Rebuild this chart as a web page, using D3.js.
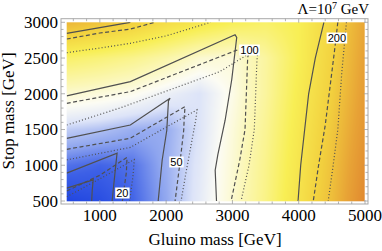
<!DOCTYPE html>
<html>
<head>
<meta charset="utf-8">
<script src="https://cdn.jsdelivr.net/npm/d3@7"></script>
<style>
  body { margin: 0; background: #fff; }
  svg { display: block; }
  .serif { font-family: "Liberation Serif", "Times New Roman", serif; fill: #000; }
  .lbl { font-family: "Liberation Sans", Arial, sans-serif; font-size: 11px; fill: #000; }
</style>
</head>
<body>
<div id="chart"></div>
<script>
// Dimensions du svg
const width = 382,
    height = 251

// Grille de la densité (fine-tuning)
const gluinoGrid = [500, 1000, 1500, 2000, 2500, 3000, 3500, 4000, 4500, 5000]
const stopGrid = [500, 1000, 1500, 2000, 2500, 3000]
const tuningGrid = [
    [10, 13, 21, 36, 60, 90, 125, 170, 220, 290],
    [24, 21, 24, 38, 58, 88, 122, 165, 215, 280],
    [48, 44, 38, 37, 55, 85, 118, 160, 208, 270],
    [90, 85, 78, 65, 55, 80, 113, 155, 200, 262],
    [140, 132, 122, 108, 90, 85, 112, 150, 195, 255],
    [230, 215, 200, 180, 165, 150, 140, 150, 190, 248]
]

// Ticks
const xTicks = [1000, 2000, 3000, 4000, 5000]
const yTicks = [500, 1000, 1500, 2000, 2500, 3000]

// Contours [gluino, stop]
const solid10 = [[[500, 680], [900, 795], [885, 650], [877, 500]]]
const solid20 = [[[500, 890], [1260, 1170], [1240, 1000], [1185, 500]]]
const dashed20 = [[[500, 640], [1000, 860], [1410, 1110], [1400, 900], [1370, 700], [1340, 500]]]
const dotted20 = [[[500, 560], [1000, 810], [1520, 1080], [1500, 850], [1450, 500]]]
const solid50 = [[[500, 1377], [1460, 1563], [2060, 1937], [2035, 1900], [2010, 1490], [1940, 1070], [1880, 500]]]
const dashed50 = [[[500, 1223], [1460, 1377], [2285, 1820], [2275, 1700], [2265, 1490], [2210, 1045], [2135, 500]]]
const dotted50 = [[[500, 1075], [1460, 1250], [2465, 1775], [2450, 1650], [2390, 1350], [2300, 900], [2225, 500]]]
const solid100 = [[[500, 1970], [1460, 2170], [3040, 2825], [3065, 2790], [2990, 2200], [2890, 1630], [2780, 1150], [2740, 930], [2760, 500]]]
const dashed100 = [[[500, 1867], [1460, 2030], [3265, 2682], [3230, 2500], [3190, 1500], [3110, 1070], [2980, 500]]]
const dotted100 = [[[500, 1563], [1300, 1800], [2810, 2310], [3390, 2640], [3370, 2470], [3330, 1500], [3250, 1000], [3130, 500]]]
const solid200 = [
    [[500, 2846], [1000, 2925], [1460, 3000]],
    [[4380, 3000], [4250, 2500], [4150, 2000], [4090, 1500], [4030, 1000], [3990, 500]]
]
const dashed200 = [
    [[500, 2766], [1000, 2850], [1460, 2905], [1830, 3000]],
    [[4590, 3000], [4540, 2600], [4400, 1560], [4300, 1000], [4220, 500]]
]
const dotted200 = [
    [[500, 2575], [1000, 2640], [1460, 2706], [2000, 2810], [2670, 3000]],
    [[4720, 3000], [4650, 2300], [4590, 1500], [4520, 1000], [4445, 500]]
]

// Étiquettes posées sur les contours tiretés
const labelTexts = ['20', '50', '100', '200']
const labelPoints = [[1340, 612], [2156, 1046], [3257, 2612], [4576, 2780]]

const contours = [
    { segs: solid10, dash: null },
    { segs: solid20, dash: null },
    { segs: dashed20, dash: '4,2.5' },
    { segs: dotted20, dash: '1,2.2' },
    { segs: solid50, dash: null },
    { segs: dashed50, dash: '4,2.5' },
    { segs: dotted50, dash: '1,2.2' },
    { segs: solid100, dash: null },
    { segs: dashed100, dash: '4,2.5' },
    { segs: dotted100, dash: '1,2.2' },
    { segs: solid200, dash: null },
    { segs: dashed200, dash: '4,2.5' },
    { segs: dotted200, dash: '1,2.2' }
]

// Échelles
const x = d3.scaleLinear().domain([500, 5000]).range([66.7, 365])
const y = d3.scaleLinear().domain([500, 3000]).range([201, 22.3])

// Couleurs : bleu -> blanc -> jaune -> orange
const color = d3.scaleLinear()
    .domain([10, 20, 35, 55, 75, 100, 150, 200, 250, 300])
    .range(['#2146e0', '#3d60e6', '#8ea5ef', '#dde4f8', '#fcfcf4', '#fbf7b8', '#f8ef55', '#f2d03e', '#e8a436', '#df822e'])
    .clamp(true)

const svg = d3.select('#chart')
    .append('svg')
    .attr('width', width)
    .attr('height', height)

// Image de densité (interpolation bilinéaire de la grille)
const gIdx = d3.scaleLinear().domain(gluinoGrid).range(d3.range(gluinoGrid.length)).clamp(true)
const sIdx = d3.scaleLinear().domain(stopGrid).range(d3.range(stopGrid.length)).clamp(true)
const value = (g, s) => {
    const fi = gIdx(g), fj = sIdx(s)
    const i = Math.min(Math.floor(fi), gluinoGrid.length - 2), j = Math.min(Math.floor(fj), stopGrid.length - 2)
    const u = fi - i, v = fj - j
    const t = tuningGrid
    return (1 - u) * (1 - v) * t[j][i] + u * (1 - v) * t[j][i + 1] + (1 - u) * v * t[j + 1][i] + u * v * t[j + 1][i + 1]
}

const x0 = x(500), x1 = x(5000), y0 = y(3000), y1 = y(500)
const cw = Math.round(x1 - x0), ch = Math.round(y1 - y0)
const canvas = document.createElement('canvas')
canvas.width = cw
canvas.height = ch
const ctx = canvas.getContext('2d')
const img = ctx.createImageData(cw, ch)
for (let py = 0; py < ch; py++) {
    for (let px = 0; px < cw; px++) {
        const c = d3.rgb(color(value(x.invert(x0 + px + 0.5), y.invert(y0 + py + 0.5))))
        const k = (py * cw + px) * 4
        img.data[k] = c.r
        img.data[k + 1] = c.g
        img.data[k + 2] = c.b
        img.data[k + 3] = 255
    }
}
ctx.putImageData(img, 0, 0)

svg.append('image')
    .attr('x', x0)
    .attr('y', y0)
    .attr('width', cw)
    .attr('height', ch)
    .attr('preserveAspectRatio', 'none')
    .attr('href', canvas.toDataURL())

// Clip sur la zone des données
svg.append('clipPath').attr('id', 'clip')
    .append('rect')
    .attr('x', x0).attr('y', y0)
    .attr('width', x1 - x0).attr('height', y1 - y0)

const line = d3.line().x(d => x(d[0])).y(d => y(d[1]))

const gLines = svg.append('g').attr('clip-path', 'url(#clip)')
contours.forEach(c => {
    c.segs.forEach(seg => {
        gLines.append('path')
            .attr('d', line(seg))
            .attr('fill', 'none')
            .attr('stroke', '#505050')
            .attr('stroke-width', 1.2)
            .attr('stroke-dasharray', c.dash)
    })
})

// Étiquettes des contours
labelTexts.forEach((t, i) => {
    const cx = x(labelPoints[i][0]), cy = y(labelPoints[i][1])
    const w = t.length * 6.2 + 2
    svg.append('rect')
        .attr('x', cx - w / 2).attr('y', cy - 5.5)
        .attr('width', w).attr('height', 11)
        .attr('fill', '#fff')
    svg.append('text')
        .attr('class', 'lbl')
        .attr('x', cx).attr('y', cy + 4)
        .attr('text-anchor', 'middle')
        .text(t)
})

// Cadre et graduations
const fx0 = x0 - 5.7, fx1 = x1 + 3, fy0 = y0 - 3.6, fy1 = y1 + 3
svg.append('rect')
    .attr('x', fx0).attr('y', fy0)
    .attr('width', fx1 - fx0).attr('height', fy1 - fy0)
    .attr('fill', 'none')
    .attr('stroke', '#a8a8a8')
    .attr('stroke-width', 1)

const ticks = svg.append('g').attr('stroke', '#a0a0a0').attr('stroke-width', 0.8)
d3.range(400, 5101, 200).forEach(v => {
    const big = v % 1000 === 0
    const len = big ? 4 : 2.5
    if (x(v) < fx0 || x(v) > fx1) return
    ticks.append('line').attr('x1', x(v)).attr('x2', x(v)).attr('y1', fy1).attr('y2', fy1 - len)
    ticks.append('line').attr('x1', x(v)).attr('x2', x(v)).attr('y1', fy0).attr('y2', fy0 + len)
})
d3.range(500, 3001, 100).forEach(v => {
    const big = v % 500 === 0
    const len = big ? 4 : 2.5
    ticks.append('line').attr('y1', y(v)).attr('y2', y(v)).attr('x1', fx0).attr('x2', fx0 + len)
    ticks.append('line').attr('y1', y(v)).attr('y2', y(v)).attr('x1', fx1).attr('x2', fx1 - len)
})

// Libellés des graduations
svg.append('g').selectAll('text')
    .data(xTicks)
    .join('text')
    .attr('class', 'serif')
    .attr('font-size', 17)
    .attr('x', d => x(d))
    .attr('y', 220.5)
    .attr('text-anchor', 'middle')
    .text(d => d)

svg.append('g').selectAll('text')
    .data(yTicks)
    .join('text')
    .attr('class', 'serif')
    .attr('font-size', 17)
    .attr('x', 58)
    .attr('y', d => y(d))
    .attr('dy', '0.34em')
    .attr('text-anchor', 'end')
    .text(d => d)

// Titres des axes
svg.append('text')
    .attr('class', 'serif')
    .attr('font-size', 17)
    .attr('x', 215)
    .attr('y', 244.5)
    .attr('text-anchor', 'middle')
    .text('Gluino mass [GeV]')

svg.append('text')
    .attr('class', 'serif')
    .attr('font-size', 17)
    .attr('transform', 'translate(14,111) rotate(-90)')
    .attr('text-anchor', 'middle')
    .text('Stop mass [GeV]')

// Titre
const title = svg.append('text')
    .attr('class', 'serif')
    .attr('font-size', 15)
    .attr('x', 369)
    .attr('y', 13.5)
    .attr('text-anchor', 'end')
title.append('tspan').text('Λ=10')
title.append('tspan').attr('font-size', 10).attr('dy', -5).text('7')
title.append('tspan').attr('dy', 5).text(' GeV')
</script>
</body>
</html>
